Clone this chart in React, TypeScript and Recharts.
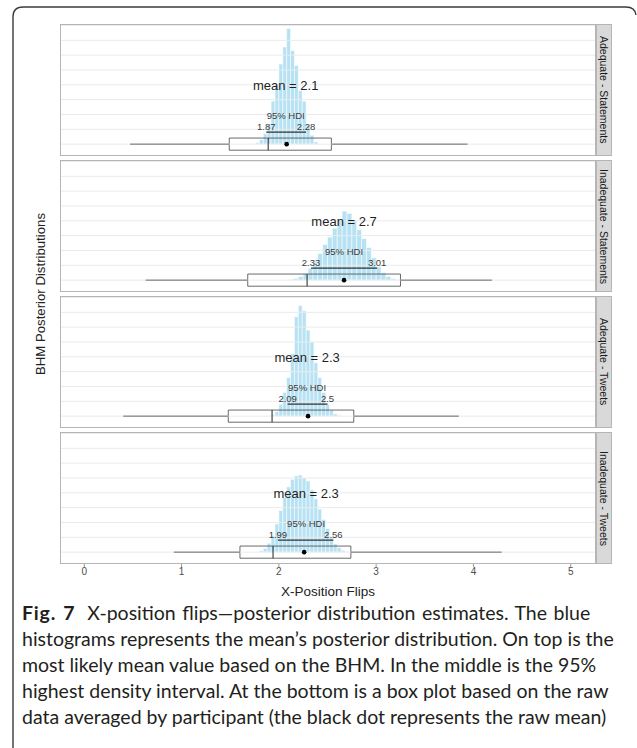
import React from 'react';
import {
  ComposedChart,
  XAxis,
  YAxis,
  ReferenceArea,
  ReferenceLine,
  ReferenceDot,
  Scatter,
} from 'recharts';

// ---------- data ----------
const panelLabels = ['Adequate - Statements', 'Inadequate - Statements', 'Adequate - Tweets', 'Inadequate - Tweets'];
const meanLabels = ['mean = 2.1', 'mean = 2.7', 'mean = 2.3', 'mean = 2.3'];
const meanPos = [2.07, 2.67, 2.29, 2.28];
const hdiLow = [1.87, 2.33, 2.09, 1.99];
const hdiHigh = [2.28, 3.01, 2.5, 2.56];
const hdiLowText = ['1.87', '2.33', '2.09', '1.99'];
const hdiHighText = ['2.28', '3.01', '2.5', '2.56'];

const whiskerLow = [0.47, 0.63, 0.4, 0.92];
const boxQ1 = [1.49, 1.68, 1.48, 1.6];
const boxMedian = [1.89, 2.29, 1.93, 1.94];
const boxQ3 = [2.54, 3.25, 2.77, 2.74];
const whiskerHigh = [3.94, 4.19, 3.85, 4.29];
const rawMean = [2.08, 2.67, 2.3, 2.26];

const binEdges1 = [1.76, 1.8, 1.84, 1.88, 1.92, 1.96, 2.0, 2.04, 2.08, 2.12, 2.16, 2.2, 2.24, 2.28, 2.32, 2.36, 2.4];
const binCounts1 = [0.1, 0.3, 0.7, 1.3, 2.9, 4.0, 5.4, 6.55, 7.8, 6.3, 5.3, 3.6, 2.9, 1.3, 0.6, 0.15];

const binEdges2 = [2.1, 2.15, 2.2, 2.25, 2.3, 2.35, 2.4, 2.45, 2.5, 2.55, 2.6, 2.65, 2.7, 2.75, 2.8, 2.85, 2.9, 2.95, 3.0, 3.05, 3.1, 3.15, 3.2, 3.25];
const binCounts2 = [0.05, 0.12, 0.25, 0.45, 0.8, 1.2, 1.8, 2.4, 2.9, 3.5, 4.1, 4.65, 4.5, 4.0, 3.4, 2.8, 2.2, 1.5, 0.9, 0.5, 0.25, 0.1, 0.04];

const binEdges3 = [1.92, 1.96, 2.0, 2.04, 2.08, 2.12, 2.16, 2.2, 2.24, 2.28, 2.32, 2.36, 2.4, 2.44, 2.48, 2.52, 2.56, 2.6, 2.64];
const binCounts3 = [0.1, 0.3, 0.8, 1.6, 2.6, 4.2, 6.7, 7.45, 7.1, 5.8, 5.0, 3.6, 2.6, 1.6, 0.8, 0.4, 0.15, 0.05];

const binEdges4 = [1.8, 1.84, 1.88, 1.92, 1.96, 2.0, 2.04, 2.08, 2.12, 2.16, 2.2, 2.24, 2.28, 2.32, 2.36, 2.4, 2.44, 2.48, 2.52, 2.56, 2.6, 2.64, 2.68, 2.72];
const binCounts4 = [0.1, 0.25, 0.6, 1.1, 1.9, 2.8, 3.7, 4.4, 4.9, 5.15, 5.2, 5.0, 4.8, 4.2, 3.6, 2.9, 2.2, 1.6, 1.0, 0.55, 0.3, 0.12, 0.05];

const binEdges = [binEdges1, binEdges2, binEdges3, binEdges4];
const binCounts = [binCounts1, binCounts2, binCounts3, binCounts4];

const xTicks = [0, 1, 2, 3, 4, 5];
const gridTicks = [0, 1, 2, 3, 4, 5, 6, 7, 8];
const xDomain: [number, number] = [-0.25, 5.26];
const yDomain: [number, number] = [-0.8, 8.1];

// annotation heights (in count units)
const meanTextY = 3.92;
const hdiTitleY = 1.93;
const hdiNumY = 1.18;
const hdiLineY = 0.81;
const boxHalf = 0.41;

const captionLines = [
  'histograms represents the mean\u2019s posterior distribution. On top is the',
  'most likely mean value based on the BHM. In the middle is the 95%',
  'highest density interval. At the bottom is a box plot based on the raw',
  'data averaged by participant (the black dot represents the raw mean)',
];

// ---------- layout ----------
const PANEL_LEFT = 60;
const PANEL_W = 536;
const PANEL_TOP = 24;
const PANEL_H = 132;
const PANEL_STEP = 136;
const AXIS_H = 20;

const textShape = (size: number, color: string) => (p: any) => (
  <text
    x={p.cx}
    y={p.cy}
    textAnchor="middle"
    dominantBaseline="central"
    fontSize={size}
    fill={color}
    fontFamily="'Liberation Sans', Arial, sans-serif"
  >
    {p.payload.t}
  </text>
);

function Panel({ i }: { i: number }) {
  const isLast = i === 3;
  const edges = binEdges[i];
  const counts = binCounts[i];
  return (
    <ComposedChart
      width={PANEL_W}
      height={PANEL_H + (isLast ? AXIS_H : 0)}
      margin={{ top: 0, right: 0, bottom: 0, left: 0 }}
    >
      <XAxis
        type="number"
        dataKey="x"
        domain={xDomain}
        ticks={xTicks}
        allowDataOverflow
        hide={!isLast}
        height={AXIS_H}
        axisLine={false}
        tickSize={3}
        tickLine={{ stroke: '#9a9a9a' }}
        tick={{ fontSize: 10, fill: '#4d4d4d' }}
        tickMargin={1}
      />
      <YAxis type="number" dataKey="y" domain={yDomain} ticks={gridTicks} allowDataOverflow hide />
      {gridTicks.map((g) => (
        <ReferenceLine key={'g' + g} y={g} stroke="#ebebeb" strokeWidth={1} />
      ))}
      {counts.map((c, k) => (
        <ReferenceArea
          key={'h' + k}
          x1={edges[k]}
          x2={edges[k + 1]}
          y1={0}
          y2={c}
          fill="#87ceeb"
          fillOpacity={0.6}
          stroke="#ffffff"
          strokeWidth={0.6}
          strokeOpacity={0.9}
        />
      ))}
      {/* box plot */}
      <ReferenceLine
        segment={[{ x: whiskerLow[i], y: 0 }, { x: boxQ1[i], y: 0 }]}
        stroke="#444"
        strokeWidth={0.8}
      />
      <ReferenceLine
        segment={[{ x: boxQ3[i], y: 0 }, { x: whiskerHigh[i], y: 0 }]}
        stroke="#444"
        strokeWidth={0.8}
      />
      <ReferenceArea
        x1={boxQ1[i]}
        x2={boxQ3[i]}
        y1={-boxHalf}
        y2={boxHalf}
        fill="none"
        fillOpacity={0}
        stroke="#444"
        strokeWidth={0.8}
      />
      <ReferenceLine
        segment={[{ x: boxMedian[i], y: -boxHalf }, { x: boxMedian[i], y: boxHalf }]}
        stroke="#222"
        strokeWidth={1}
      />
      <ReferenceDot x={rawMean[i]} y={0} r={2.3} fill="#000" stroke="none" />
      {/* HDI */}
      <ReferenceLine
        segment={[{ x: hdiLow[i], y: hdiLineY }, { x: hdiHigh[i], y: hdiLineY }]}
        stroke="#333"
        strokeWidth={1.4}
      />
      <Scatter
        data={[
          { x: hdiLow[i], y: hdiNumY, t: hdiLowText[i] },
          { x: hdiHigh[i], y: hdiNumY, t: hdiHighText[i] },
          { x: meanPos[i], y: hdiTitleY, t: '95% HDI' },
        ]}
        dataKey="y"
        isAnimationActive={false}
        shape={textShape(9.5, '#3a3a3a')}
      />
      <Scatter
        data={[{ x: meanPos[i], y: meanTextY, t: meanLabels[i] }]}
        dataKey="y"
        isAnimationActive={false}
        shape={textShape(13, '#1f1f1f')}
      />
    </ComposedChart>
  );
}

export default function App() {
  return (
    <div
      style={{
        position: 'absolute',
        left: 0,
        top: 0,
        width: 637,
        height: 748,
        background: '#fff',
        overflow: 'hidden',
        fontFamily: "'Liberation Sans', Arial, sans-serif",
      }}
    >
      {/* frame */}
      <svg width={637} height={748} style={{ position: 'absolute', left: 0, top: 0 }}>
        <path
          d="M 13 748 L 13 17 Q 13 7 23 7 L 626 7 Q 635 7 636 15"
          fill="none"
          stroke="#3a3a3a"
          strokeWidth={1.4}
        />
      </svg>

      {[0, 1, 2, 3].map((i) => (
        <div
          key={i}
          style={{ position: 'absolute', left: PANEL_LEFT, top: PANEL_TOP + i * PANEL_STEP }}
        >
          <Panel i={i} />
          <div
            style={{
              position: 'absolute',
              left: 0,
              top: 0,
              width: PANEL_W,
              height: PANEL_H,
              boxSizing: 'border-box',
              border: '1px solid #b5b5b5',
              pointerEvents: 'none',
            }}
          />
          <div
            style={{
              position: 'absolute',
              left: PANEL_W,
              top: 0,
              width: 16,
              height: PANEL_H,
              boxSizing: 'border-box',
              border: '1px solid #b5b5b5',
              background: '#d9d9d9',
              display: 'flex',
              alignItems: 'center',
              justifyContent: 'center',
            }}
          >
            <span
              style={{
                writingMode: 'vertical-rl',
                fontSize: 10.5,
                color: '#1a1a1a',
                whiteSpace: 'nowrap',
              }}
            >
              {panelLabels[i]}
            </span>
          </div>
        </div>
      ))}

      {/* axis titles */}
      <div
        style={{
          position: 'absolute',
          left: 40,
          top: 294,
          transform: 'translate(-50%, -50%) rotate(-90deg)',
          fontSize: 13.2,
          color: '#222',
          whiteSpace: 'nowrap',
        }}
      >
        BHM Posterior Distributions
      </div>
      <div
        style={{
          position: 'absolute',
          left: PANEL_LEFT + PANEL_W / 2,
          top: 591,
          transform: 'translate(-50%, -50%)',
          fontSize: 13.5,
          color: '#222',
          whiteSpace: 'nowrap',
        }}
      >
        X-Position Flips
      </div>

      {/* caption */}
      <div
        style={{
          position: 'absolute',
          left: 22,
          top: 600,
          fontFamily: "Lato, 'Noto Sans', sans-serif",
          fontSize: 19.5,
          lineHeight: '26px',
          color: '#231f20',
          whiteSpace: 'nowrap',
        }}
      >
        <div style={{ wordSpacing: 1.5 }}>
          <b style={{ letterSpacing: 0.8 }}>Fig. 7</b>
          <span style={{ display: 'inline-block', width: 12 }} />
          {'X-position flips\u2014posterior distribution estimates. The blue'}
        </div>
        {captionLines.map((l, k) => (
          <div key={k}>{l}</div>
        ))}
      </div>
    </div>
  );
}
